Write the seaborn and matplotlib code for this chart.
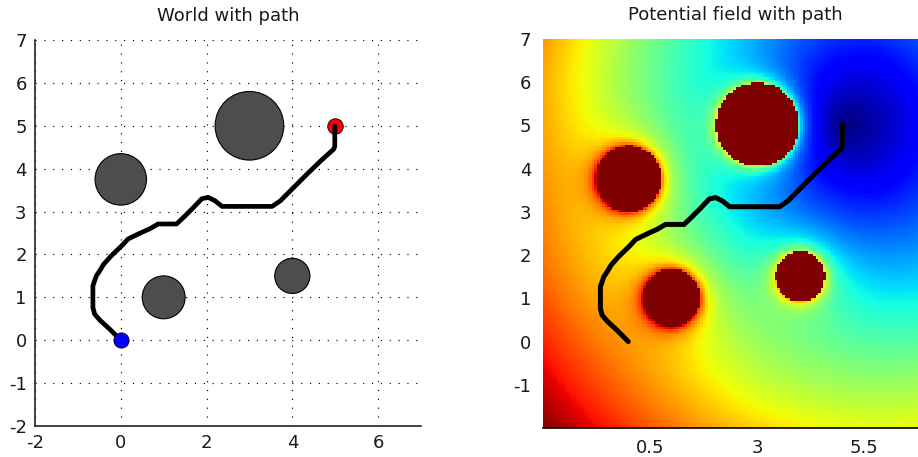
import numpy as np
import pandas as pd
import matplotlib
matplotlib.use("Agg")
import matplotlib.pyplot as plt
from matplotlib.patches import Circle
import seaborn as sns

# ---------------- data ----------------
obs_x = [3.0, 0.0, 1.0, 4.0]
obs_y = [5.0, 3.75, 1.0, 1.5]
obs_r = [0.8, 0.6, 0.5, 0.41]         # obstacle radii (world view)
obs_margin = 0.165                     # saturated zone beyond the radius in the field view

start_xy = (0.0, 0.0)
goal_xy = (5.0, 5.0)

path_x = [0.00, -0.26, -0.49, -0.61, -0.65, -0.65, -0.57, -0.49, -0.40, -0.22,
          0.02, 0.17, 0.29, 0.48, 0.68, 0.87, 1.30, 1.50, 1.69, 1.89,
          2.04, 2.20, 2.36, 3.53, 3.72, 4.03, 4.34, 4.66, 4.97, 4.99, 4.99]
path_y = [0.00, 0.26, 0.47, 0.61, 0.76, 1.27, 1.50, 1.62, 1.77, 1.97,
          2.20, 2.36, 2.42, 2.51, 2.60, 2.71, 2.71, 2.90, 3.09, 3.30,
          3.33, 3.25, 3.12, 3.12, 3.25, 3.56, 3.87, 4.18, 4.46, 4.53, 5.00]

left_xticks = [-2, 0, 2, 4, 6]
left_yticks = [-2, -1, 0, 1, 2, 3, 4, 5, 6, 7]
right_xticks = [0.5, 3, 5.5]
right_xticklabels = ["0.5", "3", "5.5"]
right_yticks = [-1, 0, 1, 2, 3, 4, 5, 6, 7]

# field model parameters (attractive conic + repulsive near obstacles)
att_scale = 10.5
att_tilt = 0.012
rep_gain = 0.062
rep_range = 2.5

# ---------------- figure ----------------
sns.set_style("white")
plt.rcParams["font.family"] = ["DejaVu Sans"]
plt.rcParams["axes.unicode_minus"] = False
W, H = 918, 457
fig = plt.figure(figsize=(W / 100, H / 100), dpi=100)

txt_col = "#1a1a1a"

# ---- left: world with path ----
ax1 = fig.add_axes([35 / W, (H - 426) / H, 386 / W, 386 / H])
for cx, cy, r in zip(obs_x, obs_y, obs_r):
    ax1.add_patch(Circle((cx, cy), r, facecolor="#4d4d4d", edgecolor="black",
                         lw=0.8, zorder=2))
df = pd.DataFrame({"x": path_x, "y": path_y})
sns.scatterplot(x=[goal_xy[0]], y=[goal_xy[1]], ax=ax1, color="red", s=125,
                edgecolor="black", linewidth=0.6, zorder=3)
sns.lineplot(data=df, x="x", y="y", sort=False, estimator=None, ax=ax1,
             color="black", lw=3.4, zorder=4)
sns.scatterplot(x=[start_xy[0]], y=[start_xy[1]], ax=ax1, color="blue", s=120,
                edgecolor="black", linewidth=0.6, zorder=5)
ax1.set_xlim(-2, 7)
ax1.set_ylim(-2, 7)
ax1.set_xticks(left_xticks)
ax1.set_yticks(left_yticks)
ax1.set_xlabel("")
ax1.set_ylabel("")
ax1.grid(True, linestyle=(0, (1, 6.5)), color="black", lw=0.85)
ax1.set_axisbelow(True)
for s in ["top", "right"]:
    ax1.spines[s].set_visible(False)
for s in ["left", "bottom"]:
    ax1.spines[s].set_color("#262626")
    ax1.spines[s].set_linewidth(1.2)
ax1.tick_params(direction="in", length=3, width=1, colors="#262626",
                labelcolor=txt_col, labelsize=13, pad=6)
ax1.set_title("World with path", fontsize=13, color=txt_col, pad=13.5)

# ---- right: potential field with path ----
ax2 = fig.add_axes([542.5 / W, (H - 428) / H, 386 / W, 389 / H])
step = 0.06
gx = np.arange(-2 + step / 2, 7, step)
gy = np.arange(-2 + step / 2, 7, step)
XX, YY = np.meshgrid(gx, gy)
U = np.hypot(XX - goal_xy[0], YY - goal_xy[1]) / att_scale + att_tilt * (goal_xy[0] - XX)
inside = np.zeros_like(U, dtype=bool)
for cx, cy, r in zip(obs_x, obs_y, obs_r):
    dist = np.hypot(XX - cx, YY - cy)
    rho = np.maximum(dist - r, 1e-3)
    U += np.where(rho < rep_range, rep_gain * (1 / rho - 1 / rep_range), 0.0)
    inside |= dist <= r + obs_margin
U = U - U[~inside].min()
U[inside] = 1.0
U = np.clip(U, 0, 1)
ax2.imshow(U, origin="lower", extent=[-2, 7, -2, 7], cmap="jet", vmin=0, vmax=1,
           interpolation="nearest", aspect="auto", zorder=1)
sns.lineplot(data=df, x="x", y="y", sort=False, estimator=None, ax=ax2,
             color="black", lw=3.6, zorder=4)
ax2.set_xlim(-2, 7)
ax2.set_ylim(-2, 7)
ax2.set_xticks(right_xticks)
ax2.set_xticklabels(right_xticklabels)
ax2.set_yticks(right_yticks)
ax2.set_xlabel("")
ax2.set_ylabel("")
for s in ["top", "right", "left"]:
    ax2.spines[s].set_visible(False)
ax2.spines["bottom"].set_color("black")
ax2.spines["bottom"].set_linewidth(1.2)
ax2.tick_params(length=0, labelcolor=txt_col, labelsize=13, pad=8)
ax2.set_title("Potential field with path", fontsize=13, color=txt_col, pad=13.5)

fig.savefig("out.png", dpi=100)
